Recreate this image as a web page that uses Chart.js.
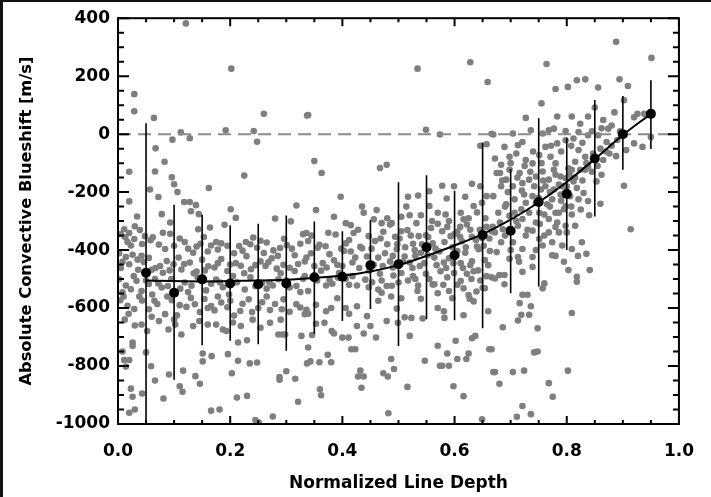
<!DOCTYPE html>
<html>
<head>
<meta charset="utf-8">
<script src="https://cdn.jsdelivr.net/npm/chart.js@4.4.1/dist/chart.umd.min.js"></script>
<style>
html, body { margin: 0; padding: 0; background: #fff; }
#wrap { width: 711px; height: 497px; }
</style>
</head>
<body>
<div id="wrap"><canvas id="chart" width="711" height="497"></canvas></div>
<script>
'use strict';

// Binned averages with their spread
const binDepth = [0.05, 0.10, 0.15, 0.20, 0.25, 0.30, 0.35, 0.40, 0.45, 0.50, 0.55, 0.60, 0.65, 0.70, 0.75, 0.80, 0.85, 0.90, 0.95];
const binShift = [-478, -547, -501, -515, -518, -515, -494, -492, -452, -449, -390, -418, -348, -333, -234, -206, -84, 0, 70];
const binHigh = [38, -244, -278, -314, -309, -281, -301, -335, -297, -166, -142, -195, -29, -120, 55, -13, 118, 132, 186];
const binLow = [-1100, -847, -728, -713, -725, -747, -689, -645, -603, -731, -639, -642, -670, -549, -526, -400, -284, -123, -51];

// Fitted curve
const fitDepth = [0.05, 0.10, 0.15, 0.20, 0.25, 0.30, 0.35, 0.40, 0.45, 0.50, 0.55, 0.60, 0.65, 0.70, 0.75, 0.80, 0.85, 0.90, 0.95];
const fitShift = [-505, -507, -508, -507, -505, -502, -496, -488, -474, -452, -420, -384, -345, -295, -235, -165, -86, -3, 70];

// Axis ticks
const xTickValues = [0, 0.2, 0.4, 0.6, 0.8, 1.0];
const yTickValues = [-1000, -800, -600, -400, -200, 0, 200, 400];

// Individual lines [depth, blueshift]
const linePoints = [
  [0.121,382],[0.202,226],[0.029,138],[0.029,79],[0.064,56],[0.26,70],[0.337,64],[0.112,6],[0.097,-19],[0.128,-14],
  [0.192,13],[0.242,11],[0.248,-26],[0.067,-49],[0.02,-130],[0.066,-129],[0.083,-95],[0.057,-191],[0.096,-149],[0.1,-173],
  [0.106,-200],[0.225,-143],[0.162,-186],[0.02,-232],[0.072,-217],[0.118,-234],[0.128,-234],[0.139,-245],[0.13,-266],[0.144,-276],
  [0.078,-276],[0.034,-284],[0.201,-259],[0.21,-289],[0.318,-246],[0.28,-291],[0.308,-301],[0.093,-305],[0.143,-328],[0.19,-313],
  [0.164,-322],
  [0.008,-750],[0.026,-719],[0.026,-730],[0.011,-779],[0.02,-779],[0.014,-802],[0.05,-753],[0.059,-801],[0.043,-895],[0.023,-878],
  [0.026,-906],[0.02,-961],[0.03,-950],[0.066,-850],[0.081,-912],[0.091,-829],[0.116,-816],[0.11,-870],[0.115,-889],[0.138,-835],
  [0.146,-861],[0.151,-757],[0.167,-766],[0.151,-784],[0.166,-954],[0.181,-950],[0.196,-759],[0.203,-825],[0.212,-909],[0.23,-903],
  [0.214,-782],[0.235,-791],[0.248,-788],[0.23,-711],[0.245,-986],[0.251,-995],[0.276,-974],[0.288,-838],[0.288,-847],[0.3,-818],
  [0.316,-844],[0.321,-923],[0.337,-791],[0.214,-719],[0.286,-691],[0.293,-691],
  [0.011,-328],[0.020,-341],[0.013,-356],[0.029,-362],[0.039,-331],[0.043,-379],[0.023,-384],[0.058,-366],[0.073,-381],[0.084,-396],
  [0.093,-344],[0.119,-372],[0.134,-409],[0.140,-388],[0.153,-355],[0.166,-384],[0.178,-398],[0.184,-377],[0.207,-411],[0.216,-386],
  [0.222,-402],[0.236,-380],[0.241,-357],[0.254,-368],[0.265,-374],[0.277,-401],[0.289,-393],[0.296,-361],[0.301,-383],[0.315,-418],
  [0.330,-345],
  [0.002,-411],[0.014,-424],[0.026,-416],[0.035,-433],[0.046,-441],[0.055,-427],[0.067,-462],[0.075,-455],[0.087,-438],[0.099,-449],
  [0.108,-426],[0.113,-467],[0.128,-443],[0.140,-474],[0.150,-433],[0.161,-456],[0.172,-460],[0.184,-431],[0.195,-472],[0.210,-445],
  [0.219,-454],[0.229,-421],[0.237,-466],[0.254,-439],[0.263,-455],[0.274,-428],[0.283,-464],[0.295,-451],[0.306,-461],[0.321,-448],
  [0.333,-439],[0.005,-462],[0.020,-449],[0.036,-468],
  [0.002,-501],[0.014,-522],[0.023,-535],[0.033,-506],[0.042,-541],[0.055,-517],[0.066,-500],[0.078,-529],[0.089,-524],[0.111,-533],
  [0.119,-512],[0.131,-523],[0.142,-495],[0.157,-539],[0.166,-516],[0.175,-502],[0.187,-528],[0.198,-553],[0.212,-511],[0.226,-536],
  [0.236,-494],[0.257,-513],[0.265,-533],[0.276,-522],[0.286,-501],[0.306,-529],[0.318,-524],[0.330,-499],[0.339,-541],[0.008,-546],
  [0.061,-553],
  [0.004,-573],[0.017,-592],[0.029,-603],[0.019,-620],[0.043,-574],[0.055,-604],[0.070,-586],[0.084,-621],[0.096,-573],[0.105,-625],
  [0.122,-596],[0.137,-587],[0.146,-614],[0.154,-569],[0.166,-593],[0.172,-608],[0.184,-581],[0.195,-597],[0.207,-626],[0.222,-585],
  [0.233,-570],[0.239,-614],[0.257,-580],[0.271,-607],[0.280,-586],[0.292,-604],[0.306,-613],[0.318,-587],[0.333,-621],
  [0.042,-657],[0.052,-679],[0.073,-645],[0.090,-674],[0.102,-657],[0.113,-691],[0.134,-662],[0.160,-657],[0.175,-657],[0.187,-674],
  [0.193,-679],[0.219,-662],[0.254,-668],[0.271,-651],[0.298,-691],[0.327,-696],
  [0.005,-345],[0.030,-318],[0.048,-352],[0.017,-372],[0.062,-356],[0.080,-340],[0.100,-385],[0.110,-360],[0.125,-395],[0.147,-378],
  [0.160,-405],[0.175,-372],[0.195,-385],[0.228,-372],[0.248,-392],[0.260,-410],[0.285,-420],[0.310,-395],[0.325,-378],[0.008,-440],
  [0.042,-420],[0.060,-468],[0.080,-478],[0.092,-470],[0.118,-448],[0.135,-480],[0.155,-470],[0.178,-445],[0.200,-450],[0.225,-480],
  [0.245,-452],[0.268,-442],[0.290,-480],[0.315,-472],[0.028,-490],[0.050,-505],[0.072,-515],[0.095,-500],[0.125,-545],[0.150,-505],
  [0.182,-512],[0.205,-490],[0.245,-525],[0.270,-512],[0.300,-505],[0.325,-545],[0.010,-560],[0.038,-560],[0.065,-575],[0.088,-560],
  [0.110,-590],[0.130,-565],[0.160,-600],[0.178,-560],[0.200,-575],[0.218,-610],[0.250,-600],[0.265,-560],[0.295,-570],[0.325,-598],
  [0.012,-640],[0.030,-660],[0.060,-630],[0.100,-640],[0.145,-645],[0.205,-650],[0.240,-640],[0.290,-640],
  [0.339,66],[0.534,226],[0.628,248],[0.659,180],[0.549,15],[0.574,-1],[0.666,1],[0.646,-40],[0.657,-35],[0.350,-93],
  [0.363,-134],[0.467,-117],[0.479,-106],[0.397,-216],[0.353,-262],[0.435,-250],[0.438,-271],[0.461,-262],[0.385,-285],[0.406,-307],
  [0.415,-314],[0.517,-216],[0.535,-212],[0.514,-250],[0.578,-178],[0.599,-180],[0.631,-171],[0.586,-222],[0.555,-197],[0.619,-216],
  [0.646,-180],[0.649,-237],[0.336,-341],[0.456,-294],[0.470,-307],[0.488,-307],[0.505,-285],[0.532,-307],[0.555,-248],[0.570,-271],
  [0.584,-277],[0.611,-271],[0.616,-294],[0.634,-248],[0.657,-214],
  [0.353,-654],[0.368,-651],[0.346,-693],[0.381,-679],[0.385,-688],[0.400,-702],[0.411,-702],[0.416,-742],[0.423,-742],[0.426,-662],
  [0.438,-688],[0.450,-662],[0.460,-702],[0.444,-628],[0.479,-645],[0.497,-602],[0.511,-632],[0.499,-651],[0.520,-696],[0.523,-634],
  [0.343,-784],[0.359,-787],[0.380,-787],[0.374,-761],[0.339,-736],[0.428,-836],[0.438,-836],[0.432,-816],[0.434,-875],[0.473,-825],
  [0.481,-836],[0.487,-776],[0.492,-810],[0.516,-872],[0.547,-782],[0.570,-730],[0.578,-799],[0.587,-757],[0.590,-799],[0.602,-713],
  [0.605,-776],[0.621,-776],[0.625,-757],[0.631,-704],[0.637,-696],[0.662,-742],[0.669,-821],[0.360,-880],[0.362,-901],[0.598,-870],
  [0.616,-904],[0.482,-963],[0.649,-984],[0.574,-799],
  [0.543,-636],[0.570,-600],[0.581,-611],[0.582,-634],[0.616,-625],[0.627,-568],[0.634,-577],[0.660,-611],[0.380,-600],[0.391,-566],
  [0.406,-600],[0.412,-620],[0.336,-606],[0.339,-620],[0.353,-589],[0.371,-611],[0.426,-594],[0.464,-575],[0.470,-547],[0.488,-523],
  [0.487,-560],[0.505,-566],[0.534,-541],[0.540,-568],[0.564,-518],[0.570,-549],[0.590,-541],[0.596,-566],[0.616,-532],[0.625,-555],
  [0.639,-543],[0.654,-532],
  [0.339,-369],[0.359,-382],[0.370,-387],[0.388,-346],[0.406,-377],[0.420,-341],[0.432,-389],[0.447,-352],[0.458,-369],[0.473,-337],
  [0.485,-312],[0.494,-354],[0.505,-335],[0.516,-331],[0.526,-378],[0.536,-352],[0.549,-349],[0.558,-324],[0.570,-309],[0.578,-335],
  [0.587,-320],[0.593,-352],[0.605,-337],[0.613,-369],[0.622,-312],[0.631,-354],[0.640,-388],[0.649,-358],[0.657,-320],[0.666,-335],
  [0.561,-377],[0.498,-380],
  [0.336,-426],[0.344,-411],[0.356,-392],[0.365,-445],[0.377,-414],[0.391,-451],[0.403,-403],[0.415,-405],[0.423,-426],[0.435,-394],
  [0.444,-422],[0.464,-426],[0.476,-411],[0.485,-439],[0.497,-397],[0.511,-422],[0.520,-443],[0.529,-400],[0.540,-409],[0.546,-445],
  [0.564,-426],[0.573,-405],[0.581,-443],[0.590,-428],[0.605,-403],[0.611,-445],[0.619,-409],[0.631,-439],[0.643,-397],[0.654,-434],
  [0.663,-403],[0.418,-443],[0.456,-451],
  [0.333,-490],[0.362,-471],[0.377,-502],[0.382,-516],[0.394,-479],[0.406,-499],[0.418,-490],[0.426,-522],[0.441,-502],[0.453,-511],
  [0.467,-482],[0.479,-524],[0.491,-488],[0.505,-479],[0.517,-505],[0.526,-490],[0.535,-522],[0.549,-482],[0.561,-519],[0.575,-473],
  [0.587,-494],[0.599,-479],[0.611,-507],[0.622,-482],[0.634,-473],[0.646,-505],[0.657,-490],[0.666,-494],[0.464,-536],[0.371,-522],
  [0.345,-350],[0.375,-340],[0.398,-395],[0.412,-365],[0.428,-330],[0.452,-395],[0.468,-360],[0.480,-380],[0.490,-420],[0.502,-360],
  [0.512,-390],[0.522,-350],[0.530,-420],[0.542,-380],[0.553,-355],[0.566,-395],[0.582,-372],[0.596,-390],[0.600,-345],[0.610,-355],
  [0.620,-390],[0.628,-330],[0.638,-365],[0.645,-330],[0.652,-385],[0.662,-360],[0.668,-320],[0.350,-455],[0.372,-460],[0.385,-435],
  [0.400,-455],[0.430,-462],[0.448,-470],[0.472,-455],[0.490,-460],[0.508,-440],[0.525,-462],[0.538,-455],[0.552,-418],[0.568,-452],
  [0.585,-462],[0.598,-445],[0.615,-462],[0.628,-452],[0.642,-470],[0.660,-452],[0.355,-505],[0.392,-495],[0.412,-520],[0.447,-528],
  [0.470,-505],[0.500,-512],[0.530,-500],[0.555,-500],[0.580,-520],[0.605,-520],[0.630,-500],[0.650,-530],[0.540,-280],[0.560,-300],
  [0.590,-300],[0.610,-320],[0.625,-290],[0.640,-270],[0.655,-290],[0.520,-280],[0.480,-290],
  [0.888,319],[0.951,263],[0.764,242],[0.894,189],[0.909,166],[0.856,161],[0.818,186],[0.833,189],[0.802,163],[0.780,156],
  [0.755,106],[0.902,117],[0.850,92],[0.838,61],[0.885,75],[0.926,70],[0.938,70],[0.920,58],[0.727,56],[0.783,61],
  [0.809,61],[0.824,36],[0.865,49],[0.874,19],[0.798,11],[0.777,19],[0.736,13],[0.704,2],[0.669,-1],[0.935,-44],
  [0.920,-32],[0.950,-10],[0.906,-55],[0.902,-178],[0.914,-328],[0.876,-67],[0.888,-76],[0.871,-27],[0.856,-4],[0.838,-4],
  [0.821,7],[0.812,-15],[0.798,-21],[0.768,13],[0.757,2],[0.713,-38],[0.721,-27],[0.689,-44],[0.672,-84],[0.762,-44],
  [0.783,-32],[0.821,-55],[0.833,-78],[0.847,-67],[0.865,-89],[0.838,-112],[0.862,-140],[0.853,-163],[0.833,-123],[0.815,-95],
  [0.803,-118],[0.780,-101],[0.771,-78],[0.751,-72],[0.739,-101],[0.727,-89],[0.710,-67],[0.698,-78],[0.683,-106],[0.675,-134],
  [0.716,-134],[0.733,-157],[0.757,-129],[0.768,-157],[0.789,-146],[0.786,-174],[0.812,-163],[0.818,-186],[0.830,-203],[0.838,-231],
  [0.821,-225],[0.806,-214],[0.789,-208],[0.774,-225],[0.765,-242],[0.754,-191],[0.739,-214],[0.724,-208],[0.707,-225],[0.692,-242],
  [0.683,-180],[0.669,-214],[0.678,-271],[0.698,-282],[0.719,-259],[0.733,-271],[0.745,-305],[0.760,-277],[0.780,-271],[0.795,-259],
  [0.809,-277],[0.815,-316],[0.800,-339],[0.783,-305],[0.768,-339],[0.751,-362],[0.739,-333],[0.727,-350],[0.713,-316],[0.686,-328],
  [0.672,-339],[0.683,-373],[0.704,-373],[0.721,-396],[0.739,-424],[0.757,-384],[0.774,-373],[0.792,-384],[0.809,-396],[0.827,-373],
  [0.835,-413],[0.841,-469],[0.803,-469],[0.818,-492],[0.818,-509],[0.774,-418],[0.760,-515],[0.757,-532],[0.739,-458],[0.721,-475],
  [0.689,-486],[0.680,-486],[0.689,-518],[0.672,-498],[0.698,-430],[0.675,-407],[0.713,-424],[0.721,-554],[0.716,-583],[0.730,-554],
  [0.736,-594],[0.719,-623],[0.733,-623],[0.713,-643],[0.686,-666],[0.748,-670],[0.809,-617],[0.742,-753],[0.748,-750],[0.666,-742],
  [0.672,-821],[0.680,-861],[0.704,-821],[0.724,-816],[0.768,-859],[0.775,-906],[0.802,-816],[0.721,-938],[0.711,-975],[0.736,-966],
  [0.681,-134],[0.692,-157],[0.704,-180],[0.698,-123],[0.721,-169],[0.745,-146],[0.762,-180],[0.777,-123],[0.792,-180],[0.798,-152],
  [0.809,-123],[0.824,-123],[0.777,-191],[0.798,-248],[0.786,-271],[0.768,-293],[0.751,-271],[0.721,-293],[0.698,-328],[0.681,-305],
  [0.727,-237],[0.745,-237],[0.707,-271],[0.786,-339],[0.798,-316],
  [0.685,-160],[0.695,-200],[0.712,-150],[0.720,-195],[0.735,-130],[0.742,-180],[0.750,-220],[0.758,-160],[0.770,-200],[0.780,-140],
  [0.792,-210],[0.800,-180],[0.805,-140],[0.815,-150],[0.828,-160],[0.835,-100],[0.845,-130],[0.855,-110],[0.860,-50],[0.870,-60],
  [0.880,-40],[0.890,-20],[0.895,10],[0.880,30],[0.862,20],[0.845,10],[0.828,-30],[0.808,-40],[0.790,-60],[0.772,-40],
  [0.755,-100],[0.740,-60],[0.725,-110],[0.700,-100],[0.690,-250],[0.710,-300],[0.730,-330],[0.752,-310],[0.770,-250],[0.790,-230],
  [0.808,-250],[0.825,-260],[0.840,-280],[0.860,-240],[0.700,-400],[0.715,-440],[0.745,-400],[0.780,-420],[0.795,-440],[0.820,-420],
  [0.690,-350],[0.760,-350],[0.780,-320]
];

// Error bars as broken line segments
let errorBars = [];
for (let i = 0; i < binDepth.length; i++) {
    errorBars.push({x: binDepth[i], y: binHigh[i]});
    errorBars.push({x: binDepth[i], y: binLow[i]});
    errorBars.push({x: binDepth[i], y: null});
}

const font = {family: '"DejaVu Sans", Arial, sans-serif', size: 17, weight: 'bold'};
const yTitleFont = {family: '"DejaVu Sans", Arial, sans-serif', size: 16.3, weight: 'bold'};

// Frame and inward tick marks on all four sides
const framePlugin = {
    id: 'frame',
    afterDatasetsDraw(chart) {
        const ctx = chart.ctx;
        const a = chart.chartArea;
        const xs = chart.scales.x;
        const ys = chart.scales.y;
        ctx.save();
        ctx.strokeStyle = '#000';
        ctx.lineWidth = 2;
        ctx.beginPath();
        for (let i = 0; i <= 20; i++) {
            let px = xs.getPixelForValue(i * 0.05);
            let len = (i % 4 == 0) ? 8 : 4;
            ctx.moveTo(px, a.bottom); ctx.lineTo(px, a.bottom - len);
            ctx.moveTo(px, a.top); ctx.lineTo(px, a.top + len);
        }
        for (let i = 0; i <= 28; i++) {
            let py = ys.getPixelForValue(-1000 + i * 50);
            let len = (i % 4 == 0) ? 11 : 6;
            ctx.moveTo(a.left, py); ctx.lineTo(a.left + len, py);
            ctx.moveTo(a.right, py); ctx.lineTo(a.right - len, py);
        }
        ctx.stroke();
        ctx.strokeRect(a.left, a.top, a.right - a.left, a.bottom - a.top);
        // dark edge of the scan
        ctx.fillStyle = '#111';
        ctx.fillRect(0, 0, chart.width, 2);
        ctx.fillRect(0, 0, 3, chart.height);
        ctx.restore();
    }
};

new Chart(document.getElementById('chart').getContext('2d'), {
    type: 'scatter',
    data: {
        datasets: [
            {
                data: linePoints.map(p => ({x: p[0], y: p[1]})),
                backgroundColor: '#7f7f7f',
                borderWidth: 0,
                pointRadius: 3.3,
                clip: 0,
                order: 5
            },
            {
                type: 'line',
                data: [{x: 0, y: 0}, {x: 1, y: 0}],
                borderColor: '#8a8a8a',
                borderWidth: 2,
                borderDash: [13, 7],
                pointRadius: 0,
                clip: 0,
                order: 4
            },
            {
                type: 'line',
                data: errorBars,
                borderColor: '#000',
                borderWidth: 1.6,
                pointRadius: 0,
                spanGaps: false,
                clip: 0,
                order: 3
            },
            {
                type: 'line',
                data: fitDepth.map((d, i) => ({x: d, y: fitShift[i]})),
                borderColor: '#000',
                borderWidth: 2,
                pointRadius: 0,
                cubicInterpolationMode: 'monotone',
                clip: 0,
                order: 2
            },
            {
                data: binDepth.map((d, i) => ({x: d, y: binShift[i]})),
                backgroundColor: '#000',
                borderWidth: 0,
                pointRadius: 5,
                clip: 0,
                order: 1
            }
        ]
    },
    options: {
        responsive: false,
        animation: false,
        events: [],
        layout: {padding: {left: 0, top: 13, right: 23, bottom: 0}},
        plugins: {legend: {display: false}, tooltip: {enabled: false}},
        scales: {
            x: {
                type: 'linear',
                min: 0,
                max: 1,
                grid: {display: false, drawTicks: false},
                border: {display: false},
                afterBuildTicks: s => { s.ticks = xTickValues.map(v => ({value: v})); },
                ticks: {
                    autoSkip: false,
                    maxRotation: 0,
                    padding: 17,
                    color: '#000',
                    font: font,
                    callback: v => Number(v).toFixed(1)
                },
                title: {
                    display: true,
                    text: 'Normalized Line Depth',
                    color: '#000',
                    font: font,
                    padding: {top: 0, bottom: 3}
                },
                afterFit: s => { s.height = 73; }
            },
            y: {
                type: 'linear',
                min: -1000,
                max: 400,
                grid: {display: false, drawTicks: false},
                border: {display: false},
                afterBuildTicks: s => { s.ticks = yTickValues.map(v => ({value: v})); },
                ticks: {
                    autoSkip: false,
                    padding: 8,
                    color: '#000',
                    font: font,
                    callback: v => String(v)
                },
                title: {
                    display: true,
                    text: 'Absolute Convective Blueshift [m/s]',
                    color: '#000',
                    font: yTitleFont,
                    padding: {top: 17, bottom: 0}
                },
                afterFit: s => { s.width = 118; }
            }
        }
    },
    plugins: [framePlugin]
});
</script>
</body>
</html>
